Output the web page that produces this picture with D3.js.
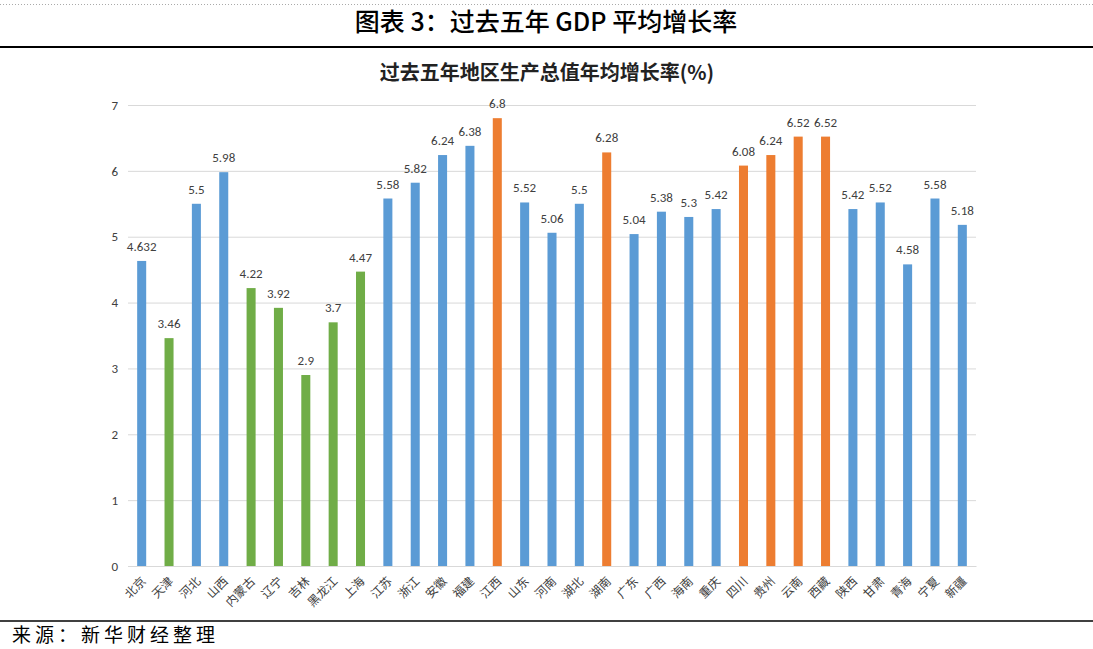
<!DOCTYPE html>
<html>
<head>
<meta charset="utf-8">
<script src="https://cdn.jsdelivr.net/npm/d3@7"></script>
<style>
  body { margin: 0; background: #fff; }
  svg { display: block; }
</style>
</head>
<body>
<div id="chart"></div>
<script>
// Provinces in the order they appear on the x axis
var provinces = ["北京", "天津", "河北", "山西", "内蒙古", "辽宁", "吉林", "黑龙江", "上海",
  "江苏", "浙江", "安徽", "福建", "江西", "山东", "河南", "湖北", "湖南", "广东", "广西",
  "海南", "重庆", "四川", "贵州", "云南", "西藏", "陕西", "甘肃", "青海", "宁夏", "新疆"];

// Average growth rate over the past five years (%)
var growth = [4.632, 3.46, 5.5, 5.98, 4.22, 3.92, 2.9, 3.7, 4.47,
  5.58, 5.82, 6.24, 6.38, 6.8, 5.52, 5.06, 5.5, 6.28, 5.04, 5.38,
  5.3, 5.42, 6.08, 6.24, 6.52, 6.52, 5.42, 5.52, 4.58, 5.58, 5.18];

// Highlight group of each bar
var groups = ["base", "low", "base", "base", "low", "low", "low", "low", "low",
  "base", "base", "base", "base", "high", "base", "base", "base", "high", "base", "base",
  "base", "base", "high", "high", "high", "high", "base", "base", "base", "base", "base"];

var yTicks = [0, 1, 2, 3, 4, 5, 6, 7];

var svgWidth = 1093;
var svgHeight = 649;

var margin = { top: 105, right: 117, bottom: 83, left: 128 };
var chartWidth = svgWidth - margin.left - margin.right;
var chartHeight = svgHeight - margin.top - margin.bottom;

var svg = d3.select("#chart")
  .append("svg")
  .attr("width", svgWidth)
  .attr("height", svgHeight);

var cjk = "'Noto Sans CJK SC', 'Noto Sans', sans-serif";
var latin = "Carlito, Calibri, 'Liberation Sans', Arial, sans-serif";

// Page frame: dotted rule, heading, black rules, source line
svg.append("line")
  .attr("x1", 0).attr("x2", svgWidth)
  .attr("y1", 4.5).attr("y2", 4.5)
  .attr("stroke", "#aaa")
  .attr("stroke-dasharray", "1,2");

svg.append("text")
  .attr("x", 546)
  .attr("y", 31)
  .attr("text-anchor", "middle")
  .attr("font-family", cjk)
  .attr("font-size", "25px")
  .attr("font-weight", "500")
  .attr("fill", "#000")
  .text("图表 3：过去五年 GDP 平均增长率");

svg.append("line")
  .attr("x1", 0).attr("x2", svgWidth)
  .attr("y1", 47).attr("y2", 47)
  .attr("stroke", "#000")
  .attr("stroke-width", 2);

svg.append("line")
  .attr("x1", 0).attr("x2", svgWidth)
  .attr("y1", 621).attr("y2", 621)
  .attr("stroke", "#000")
  .attr("stroke-width", 1.5);

svg.append("text")
  .attr("x", 12)
  .attr("y", 642)
  .attr("font-family", cjk)
  .attr("font-size", "19px")
  .attr("letter-spacing", "4px")
  .attr("fill", "#000")
  .text("来源：新华财经整理");

// Chart title
svg.append("text")
  .attr("x", 547)
  .attr("y", 80)
  .attr("text-anchor", "middle")
  .attr("font-family", cjk)
  .attr("font-size", "20px")
  .attr("font-weight", "bold")
  .attr("fill", "#222")
  .text("过去五年地区生产总值年均增长率(%)");

var chartGroup = svg.append("g")
  .attr("transform", `translate(${margin.left}, ${margin.top})`);

var xBandScale = d3.scaleBand()
  .domain(provinces)
  .range([0, chartWidth])
  .paddingInner(0.67)
  .paddingOuter(0.335);

var yLinearScale = d3.scaleLinear()
  .domain([0, 7])
  .range([chartHeight, 0]);

var colour = d3.scaleOrdinal()
  .domain(["base", "low", "high"])
  .range(["#5B9BD5", "#70AD47", "#ED7D31"]);

// Gridlines + y labels
var leftAxis = d3.axisLeft(yLinearScale)
  .tickValues(yTicks)
  .tickSize(-chartWidth)
  .tickPadding(10)
  .tickFormat(d3.format("d"));

var yAxisGroup = chartGroup.append("g").call(leftAxis);
yAxisGroup.select(".domain").remove();
yAxisGroup.selectAll(".tick line")
  .attr("stroke", "#d9d9d9")
  .attr("stroke-width", 1);
yAxisGroup.selectAll(".tick text")
  .attr("font-family", latin)
  .attr("font-size", "13px")
  .attr("fill", "#404040");

// Bars
var data = provinces.map(function(p, i) {
  return { name: p, value: growth[i], group: groups[i] };
});

chartGroup.selectAll("rect.bar")
  .data(data)
  .enter()
  .append("rect")
  .attr("class", "bar")
  .attr("x", d => xBandScale(d.name))
  .attr("y", d => yLinearScale(d.value))
  .attr("width", xBandScale.bandwidth())
  .attr("height", d => chartHeight - yLinearScale(d.value))
  .attr("fill", d => colour(d.group));

// Value labels
chartGroup.selectAll("text.val")
  .data(data)
  .enter()
  .append("text")
  .attr("class", "val")
  .attr("x", d => xBandScale(d.name) + xBandScale.bandwidth() / 2)
  .attr("y", d => yLinearScale(d.value) - 10)
  .attr("text-anchor", "middle")
  .attr("font-family", latin)
  .attr("font-size", "13px")
  .attr("fill", "#404040")
  .text(d => d.value);

// X axis labels, rotated
var bottomAxis = d3.axisBottom(xBandScale).tickSize(0).tickPadding(0);
var xAxisGroup = chartGroup.append("g")
  .attr("transform", `translate(0, ${chartHeight})`)
  .call(bottomAxis);
xAxisGroup.select(".domain")
  .attr("stroke", "#d9d9d9");
xAxisGroup.selectAll(".tick text")
  .attr("font-family", cjk)
  .attr("font-size", "12px")
  .attr("fill", "#404040")
  .attr("text-anchor", "end")
  .attr("dy", null)
  .attr("transform", "translate(5, 16) rotate(-45)");
</script>
</body>
</html>
